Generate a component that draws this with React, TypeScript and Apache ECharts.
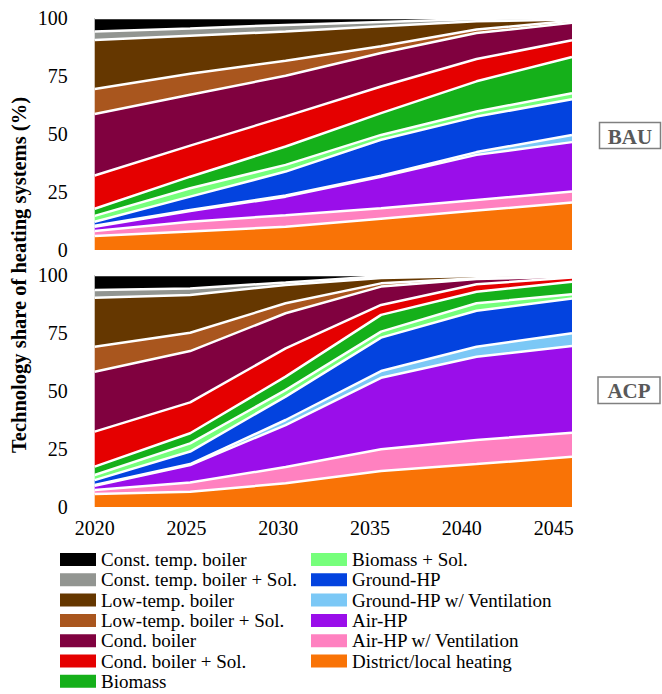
import React, { useEffect, useRef } from "react";
import * as echarts from "echarts";

const FONT = "Liberation Serif";

const years = ["2020", "2025", "2030", "2035", "2040", "2045"];
const yTicks = [0, 25, 50, 75, 100];

// stacking order: bottom -> top
const techNames = [
  "District/local heating",
  "Air-HP w/ Ventilation",
  "Air-HP",
  "Ground-HP w/ Ventilation",
  "Ground-HP",
  "Biomass + Sol.",
  "Biomass",
  "Cond. boiler + Sol.",
  "Cond. boiler",
  "Low-temp. boiler + Sol.",
  "Low-temp. boiler",
  "Const. temp. boiler + Sol.",
  "Const. temp. boiler",
];
const techColors = [
  "#f97306",
  "#ff81c0",
  "#9a0eea",
  "#7bc8f6",
  "#0343df",
  "#76ff7b",
  "#15b01a",
  "#e50000",
  "#80013f",
  "#a9561e",
  "#653700",
  "#929591",
  "#000000",
];
const legendCol1 = [
  "Const. temp. boiler",
  "Const. temp. boiler + Sol.",
  "Low-temp. boiler",
  "Low-temp. boiler + Sol.",
  "Cond. boiler",
  "Cond. boiler + Sol.",
  "Biomass",
];
const legendCol2 = [
  "Biomass + Sol.",
  "Ground-HP",
  "Ground-HP w/ Ventilation",
  "Air-HP",
  "Air-HP w/ Ventilation",
  "District/local heating",
];

// BAU scenario (% share)
const bauDistrict = [6, 8, 10, 13.5, 17, 20.5];
const bauAirHPVent = [2.2, 4.2, 5, 4.5, 4.6, 4.7];
const bauAirHP = [1.8, 4.6, 8, 13.6, 19.4, 21.3];
const bauGroundHPVent = [0.5, 0.5, 0.5, 0.4, 1.2, 3.1];
const bauGroundHP = [1.7, 5.7, 10.3, 15.5, 15.3, 15.4];
const bauBiomassSol = [2.5, 3.6, 2.9, 2.1, 2.2, 2.6];
const bauBiomass = [3.1, 5, 7.9, 9.4, 13, 15.6];
const bauCondSol = [14.3, 13.4, 13, 11.5, 9.6, 7.2];
const bauCond = [26.5, 21.9, 17.5, 14.4, 11.2, 7.6];
const bauLowTempSol = [10.8, 9.1, 6.5, 2.9, 1.5, 0.8];
const bauLowTemp = [21.1, 16.3, 12.6, 8.6, 3.6, 0.5];
const bauConstSol = [3.7, 3.2, 2.8, 1.9, 1.0, 0.7];
const bauConst = [5.8, 4.5, 3.0, 1.7, 0.4, 0];

// ACP scenario (% share)
const acpDistrict = [5.6, 6.6, 10.2, 15.5, 18.5, 21.7];
const acpAirHPVent = [1.7, 4.0, 7.0, 9.4, 10.4, 10.3];
const acpAirHP = [1.9, 7.5, 18.1, 30.8, 35.9, 37.4];
const acpGroundHPVent = [0.3, 0.4, 2.2, 2.9, 4.3, 5.5];
const acpGroundHP = [2.1, 5.4, 10.1, 14.4, 15.5, 15.0];
const acpBiomassSol = [2.2, 3.5, 2.8, 2.6, 3.2, 1.8];
const acpBiomass = [3.6, 4.4, 5.8, 7.2, 5.0, 5.4];
const acpCondSol = [15.1, 13.3, 12.2, 4.3, 3.2, 1.8];
const acpCond = [25.8, 22.1, 15.1, 7.9, 2.3, 0.4];
const acpLowTempSol = [10.8, 7.9, 4.3, 1.4, 0.3, 0.3];
const acpLowTemp = [21.1, 16.3, 7.9, 2.3, 1.0, 0.4];
const acpConstSol = [3.3, 2.8, 1.1, 0.8, 0.4, 0];
const acpConst = [6.5, 5.8, 3.2, 0.5, 0, 0];

const bauValues = [
  bauDistrict, bauAirHPVent, bauAirHP, bauGroundHPVent, bauGroundHP, bauBiomassSol,
  bauBiomass, bauCondSol, bauCond, bauLowTempSol, bauLowTemp, bauConstSol, bauConst,
];
const acpValues = [
  acpDistrict, acpAirHPVent, acpAirHP, acpGroundHPVent, acpGroundHP, acpBiomassSol,
  acpBiomass, acpCondSol, acpCond, acpLowTempSol, acpLowTemp, acpConstSol, acpConst,
];

function buildSeries(values: number[][], axisIdx: number, key: string) {
  const areas = values.map((vals, i) => ({
    name: techNames[i],
    type: "line",
    xAxisIndex: axisIdx,
    yAxisIndex: axisIdx,
    stack: key + "-area",
    data: vals,
    symbol: "none",
    showSymbol: false,
    silent: true,
    z: 2,
    lineStyle: { color: techColors[i], width: 0 },
    itemStyle: { color: techColors[i] },
    areaStyle: { color: techColors[i], opacity: 1 },
  }));
  const borders = values.map((vals, i) => ({
    name: key + "-border-" + i,
    type: "line",
    xAxisIndex: axisIdx,
    yAxisIndex: axisIdx,
    stack: key + "-border",
    data: vals,
    symbol: "none",
    showSymbol: false,
    silent: true,
    z: 3,
    lineStyle: { color: "#ffffff", width: 2.5 },
    itemStyle: { color: "#ffffff" },
  }));
  return [...areas, ...borders];
}

function yAxis(gridIndex: number) {
  return {
    gridIndex,
    type: "value",
    min: yTicks[0],
    max: yTicks[yTicks.length - 1],
    interval: 25,
    axisLine: { show: false },
    axisTick: { show: false },
    splitLine: { show: false },
    axisLabel: { fontSize: 20, fontFamily: FONT, color: "#000", margin: 27 },
  };
}

function scenarioBox(label: string, x: number, y: number, w: number, h: number) {
  return {
    type: "group",
    children: [
      {
        type: "rect",
        shape: { x, y, width: w, height: h },
        style: { fill: "#fff", stroke: "#808080", lineWidth: 1.5 },
      },
      {
        type: "text",
        x: x + w / 2,
        y: y + h / 2 + 1,
        style: {
          text: label,
          font: "bold 21px Liberation Serif",
          fill: "#595959",
          textAlign: "center",
          textVerticalAlign: "middle",
        },
      },
    ],
  };
}

export default function App() {
  const ref = useRef<HTMLDivElement>(null);
  useEffect(() => {
    if (!ref.current) return;
    const chart = echarts.init(ref.current, null, { renderer: "svg" });
    const legendCommon = {
      orient: "vertical",
      top: 550,
      padding: 0,
      itemWidth: 36,
      itemHeight: 13,
      itemGap: 1.3,
      icon: "rect",
      selectedMode: false,
      itemStyle: { borderWidth: 0 },
      textStyle: { fontSize: 19, fontFamily: FONT, color: "#000" },
    };
    chart.setOption({
      animation: false,
      backgroundColor: "#fff",
      grid: [
        { left: 94.7, top: 18, width: 477.3, height: 232 },
        { left: 94.7, top: 275, width: 477.3, height: 232 },
      ],
      xAxis: [
        { gridIndex: 0, type: "category", data: years, boundaryGap: false, show: false },
        { gridIndex: 1, type: "category", data: years, boundaryGap: false, show: false, position: "bottom" },
        {
          gridIndex: 1,
          type: "value",
          min: 2020,
          max: 2046,
          interval: 5,
          position: "bottom",
          axisLine: { show: false },
          axisTick: { show: false },
          splitLine: { show: false },
          axisLabel: {
            fontSize: 20,
            fontFamily: FONT,
            color: "#000",
            margin: 11,
            showMaxLabel: false,
            showMinLabel: true,
            formatter: (v: number) => (v % 5 === 0 ? String(v) : ""),
          },
        },
      ],
      yAxis: [yAxis(0), yAxis(1)],
      legend: [
        { ...legendCommon, left: 60, data: legendCol1 },
        { ...legendCommon, left: 311, data: legendCol2 },
      ],
      graphic: [
        {
          type: "text",
          x: 19,
          y: 275,
          rotation: Math.PI / 2,
          style: {
            text: "Technology share of heating systems (%)",
            font: "bold 20.5px Liberation Serif",
            fill: "#000",
            textAlign: "center",
            textVerticalAlign: "middle",
          },
        },
        scenarioBox("BAU", 599.5, 122.5, 61, 26),
        scenarioBox("ACP", 598, 377, 62, 26.5),
      ],
      series: [...buildSeries(bauValues, 0, "bau"), ...buildSeries(acpValues, 1, "acp")],
    });
    return () => chart.dispose();
  }, []);
  return (
    <div
      ref={ref}
      style={{ position: "fixed", left: 0, top: 0, width: 662, height: 694, background: "#fff" }}
    />
  );
}
